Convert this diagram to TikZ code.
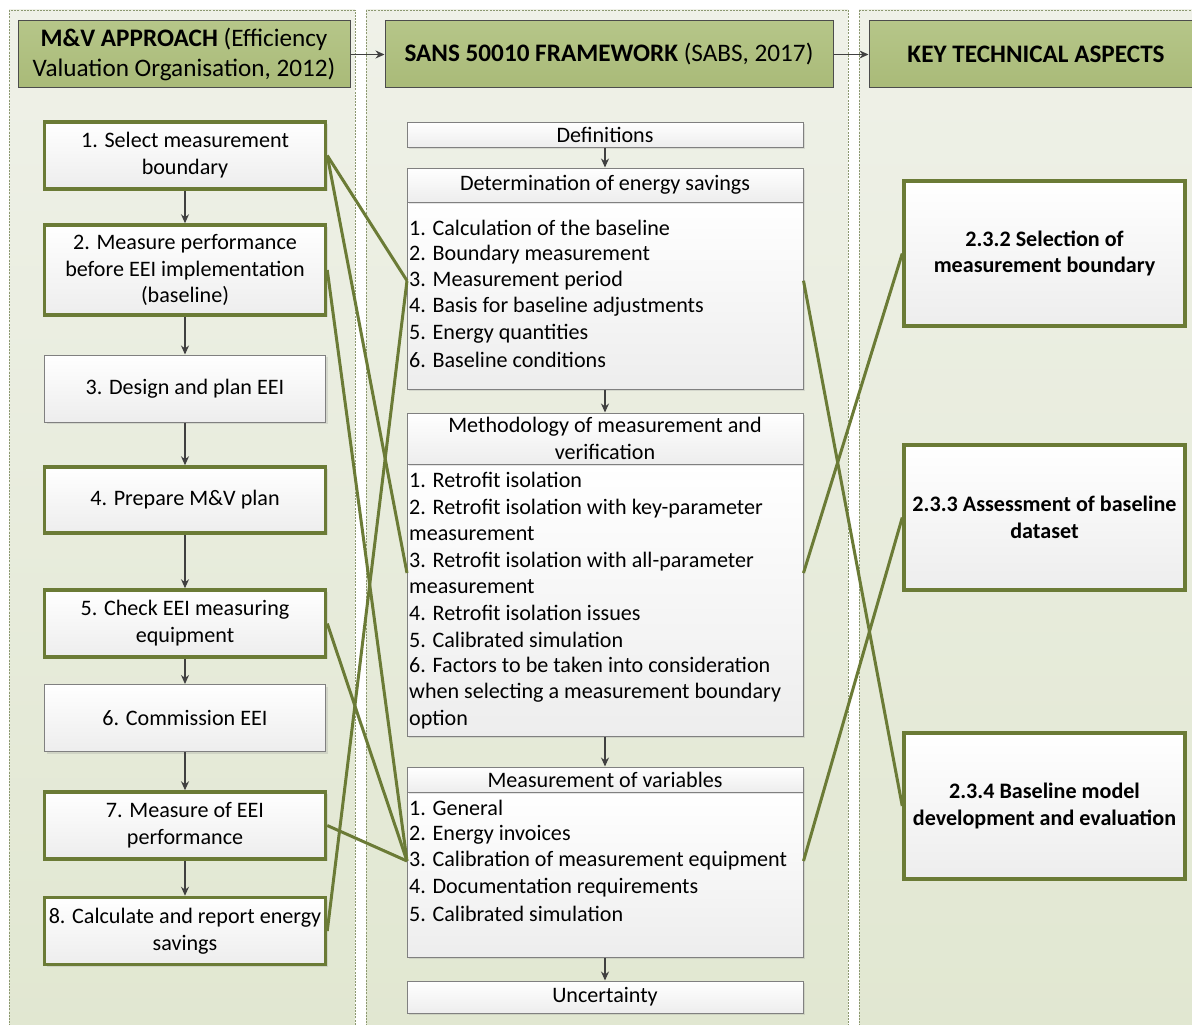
\documentclass[tikz,border=0pt]{standalone}
\usepackage{fontspec}
\setmainfont{Carlito}
\usepackage{tikz}
\usetikzlibrary{arrows.meta, positioning, calc, shadows}

\definecolor{panelTop}{HTML}{EFF1E8}
\definecolor{panelBot}{HTML}{E1E7D1}
\definecolor{panelLine}{HTML}{8C9870}
\definecolor{headTop}{HTML}{B6C689}
\definecolor{headBot}{HTML}{A9BA78}
\definecolor{olive}{HTML}{6B7B36}
\definecolor{boxLine}{HTML}{808080}
\definecolor{flowGray}{HTML}{404040}

\newcommand{\stepfont}{\fontsize{22.1}{26.8}\selectfont}
\newcommand{\headfont}{\fontsize{25.2}{30}\selectfont}

\tikzset{
  panel/.style={draw=panelLine, line width=0.8pt, dash pattern=on 2pt off 1.2pt,
    top color=panelTop, bottom color=panelBot},
  header/.style={draw=black!70, line width=1pt, top color=headTop, bottom color=headBot,
    minimum height=67pt, align=center, inner sep=2pt, font=\headfont},
  stepbox/.style={draw=boxLine, line width=1pt, top color=white, bottom color=black!7,
    align=center, inner sep=2pt, font=\stepfont,
    drop shadow={shadow xshift=2pt, shadow yshift=-2pt, opacity=0.2}},
  keybox/.style={stepbox, draw=olive, line width=3.5pt},
  item/.style={anchor=west, align=left, inner sep=2pt, font=\stepfont},
  flow/.style={-{Stealth[length=9pt, width=8pt]}, draw=flowGray, line width=1.3pt},
  link/.style={draw=olive, line width=3pt}
}

\begin{document}
\begin{tikzpicture}[x=1pt, y=-1pt]
  \useasboundingbox (0,0) rectangle (1192,1025);

  % Column panels
  \draw[panel] (9,10) rectangle (355,1034);
  \draw[panel] (366,10) rectangle (848,1034);
  \draw[panel] (859,10) rectangle (1204,1034);

  % Headers
  \node[header, minimum width=332pt] (hMV) at (184,54.5)
    {\textbf{M\&V APPROACH} (Efficiency\\Valuation Organisation, 2012)};
  \node[header, minimum width=448pt] (hSANS) at (609,54.5)
    {\textbf{SANS 50010 FRAMEWORK} (SABS, 2017)};
  \node[header, minimum width=334pt] (hKey) at (1036,54.5)
    {\textbf{KEY TECHNICAL ASPECTS}};
  \draw[flow] (hMV) -- (hSANS);
  \draw[flow] (hSANS) -- (hKey);

  % M&V steps
  \node[keybox, minimum width=281pt, minimum height=67pt] (mv1) at (185,155.5)
    {1. Select measurement\\boundary};
  \node[keybox, minimum width=281pt, minimum height=90pt] (mv2) at (185,270)
    {2. Measure performance\\before EEI implementation\\(baseline)};
  \node[stepbox, minimum width=281pt, minimum height=67pt] (mv3) at (185,388.5)
    {3. Design and plan EEI};
  \node[keybox, minimum width=281pt, minimum height=66pt] (mv4) at (185,500)
    {4. Prepare M\&V plan};
  \node[keybox, minimum width=281pt, minimum height=67pt] (mv5) at (185,623.5)
    {5. Check EEI measuring\\equipment};
  \node[stepbox, minimum width=281pt, minimum height=67pt] (mv6) at (185,718)
    {6. Commission EEI};
  \node[keybox, minimum width=281pt, minimum height=67pt] (mv7) at (185,825.5)
    {7. Measure of EEI\\performance};
  \node[keybox, minimum width=281pt, minimum height=67pt] (mv8) at (185,931)
    {8. Calculate and report energy\\savings};
  \foreach \a/\b in {1/2, 2/3, 3/4, 4/5, 5/6, 6/7, 7/8}
    \draw[flow] (mv\a) -- (mv\b);

  % SANS 50010 sections
  \node[stepbox, minimum width=396pt, minimum height=25pt] (defs) at (605,134.5) {Definitions};
  \node[stepbox, minimum width=396pt, minimum height=187pt] (detB) at (605,295.5) {};
  \node[stepbox, minimum width=396pt, minimum height=34pt] (detT) at (605,185)
    {Determination of energy savings};
  \node[stepbox, minimum width=396pt, minimum height=272pt] (methB) at (605,600) {};
  \node[stepbox, minimum width=396pt, minimum height=51pt] (methT) at (605,438.5)
    {Methodology of measurement and\\verification};
  \node[stepbox, minimum width=396pt, minimum height=165pt] (varB) at (605,874.5) {};
  \node[stepbox, minimum width=396pt, minimum height=25pt] (varT) at (605,779.5)
    {Measurement of variables};
  \node[stepbox, minimum width=396pt, minimum height=32pt] (unc) at (605,997) {Uncertainty};

  \foreach \txt [count=\i] in {1. Calculation of the baseline, 2. Boundary measurement,
      3. Measurement period, 4. Basis for baseline adjustments, 5. Energy quantities,
      6. Baseline conditions}
    \node[item] (det\i) at (407,201.8+26.3*\i) {\txt};
  \foreach \y/\txt [count=\i] in {480/{1. Retrofit isolation},
      520/{2. Retrofit isolation with key-parameter\\measurement},
      573/{3. Retrofit isolation with all-parameter\\measurement},
      613/{4. Retrofit isolation issues}, 640/{5. Calibrated simulation},
      693/{6. Factors to be taken into consideration\\when selecting a measurement boundary\\option}}
    \node[item] (meth\i) at (407,\y) {\txt};
  \foreach \txt [count=\i] in {1. General, 2. Energy invoices,
      3. Calibration of measurement equipment, 4. Documentation requirements,
      5. Calibrated simulation}
    \node[item] (var\i) at (407,781.5+26.5*\i) {\txt};

  \draw[flow] (defs) -- (detT);
  \draw[flow] (detB) -- (methT);
  \draw[flow] (methB) -- (varT);
  \draw[flow] (varB) -- (unc);

  % Key technical aspects
  \node[keybox, minimum width=281pt, minimum height=145pt, font=\stepfont\bfseries] (k2) at (1044.5,253.5)
    {2.3.2 Selection of\\measurement boundary};
  \node[keybox, minimum width=281pt, minimum height=145pt, font=\stepfont\bfseries] (k3) at (1044.5,517.5)
    {2.3.3 Assessment of baseline\\dataset};
  \node[keybox, minimum width=281pt, minimum height=146pt, font=\stepfont\bfseries] (k4) at (1044.5,806)
    {2.3.4 Baseline model\\development and evaluation};

  % Links from M&V steps to SANS clauses
  \draw[link] (mv1.east) -- (det3.west);
  \draw[link] (mv8.east) -- (det3.west);
  \draw[link] (mv1.east) -- (meth3.west);
  \draw[link] (mv2.east) -- (var3.west);
  \draw[link] (mv5.east) -- (var3.west);
  \draw[link] (mv7.east) -- (var3.west);
  % Links from SANS clauses to key aspects
  \draw[link] (det3.west -| detB.east) -- (k4.west);
  \draw[link] (meth3.west -| methB.east) -- (k2.west);
  \draw[link] (var3.west -| varB.east) -- (k3.west);
\end{tikzpicture}
\end{document}
